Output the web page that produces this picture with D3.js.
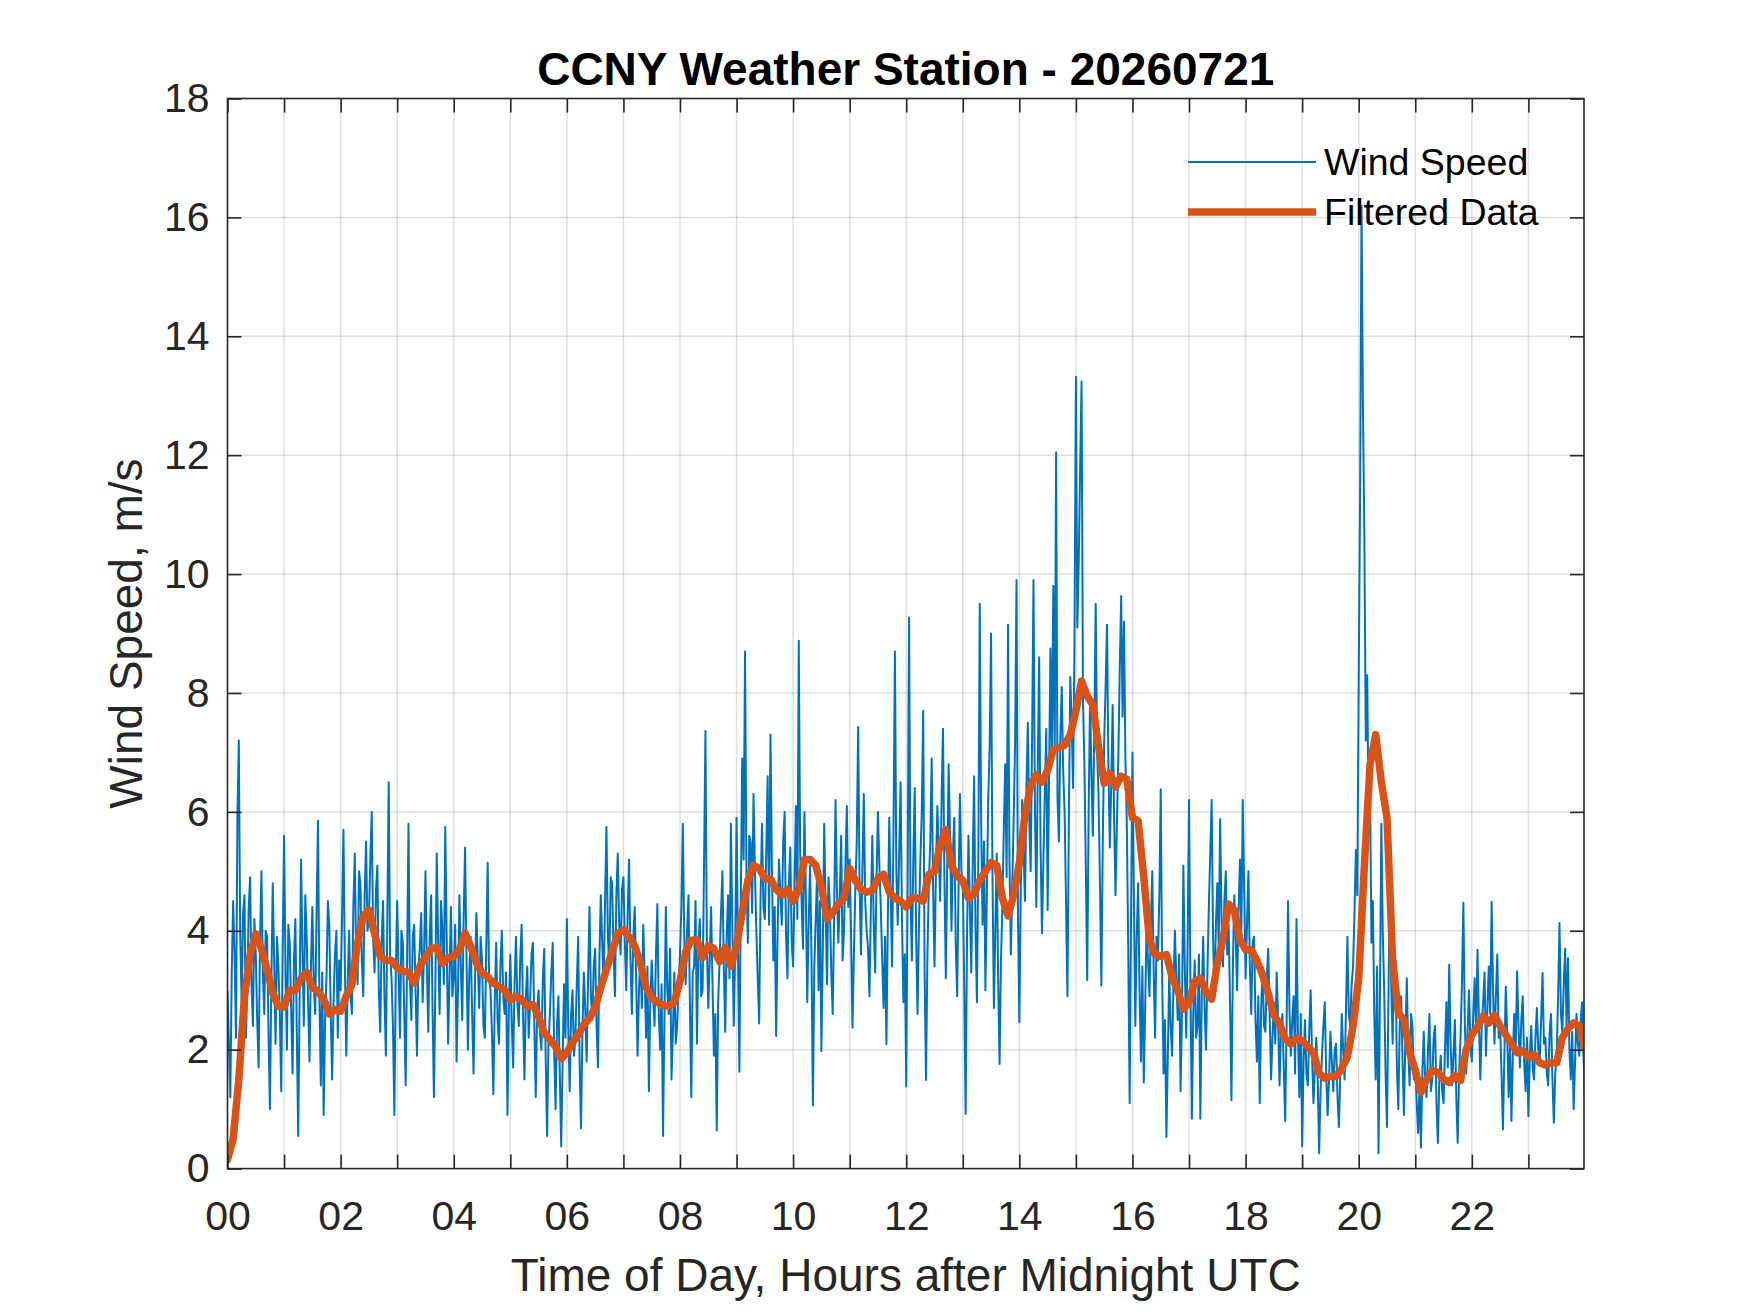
<!DOCTYPE html>
<html>
<head>
<meta charset="utf-8">
<script src="https://cdn.jsdelivr.net/npm/d3@7"></script>
<style>
  body { margin: 0; background: #fff; }
  text { font-family: "Liberation Sans", Arial, Helvetica, sans-serif; }
</style>
</head>
<body>
<div id="chart"></div>
<script>
// raw wind speed, m/s: one row per hour, one sample every 1.5 minutes
var windSpeed = [
  [3.0, 2.1, 1.2, 3.3, 4.5, 3.6, 2.2, 5.9, 7.2, 3.9, 2.8, 4.3, 4.6, 2.2, 3.0, 4.4, 4.9, 3.1, 2.4, 4.2, 3.6, 2.5, 1.7, 3.8, 5.0, 3.3, 2.6, 4.0, 3.9, 2.3, 1.0, 3.1, 4.8, 3.5, 2.1, 3.9, 3.4, 2.6, 1.3, 3.7],
  [5.6, 3.4, 2.0, 4.1, 3.8, 2.7, 1.6, 3.5, 4.2, 2.3, 0.55, 2.9, 5.2, 3.7, 2.4, 4.6, 3.9, 2.8, 1.8, 3.4, 4.4, 3.1, 2.6, 4.3, 5.85, 2.9, 1.4, 3.3, 0.9, 2.5, 3.2, 4.5, 4.1, 2.6, 1.5, 2.8, 3.6, 4.0, 2.2, 3.5],
  [3.0, 4.2, 5.7, 3.4, 1.9, 3.1, 4.0, 2.9, 2.6, 4.4, 5.3, 3.6, 3.1, 5.0, 4.8, 3.5, 2.9, 4.6, 5.5, 4.0, 4.2, 5.2, 6.0, 3.9, 3.3, 4.7, 5.1, 3.0, 2.3, 3.8, 4.5, 2.9, 1.9, 4.1, 6.5, 3.6, 3.2, 2.4, 0.9, 3.3],
  [4.5, 3.3, 2.2, 4.0, 3.8, 2.6, 1.4, 3.5, 5.8, 3.2, 2.5, 3.9, 4.1, 3.0, 1.9, 3.4, 3.7, 4.3, 2.8, 3.6, 5.0, 3.4, 2.3, 3.9, 4.6, 2.7, 1.2, 3.1, 5.3, 3.8, 2.6, 4.5, 4.0, 3.1, 5.75, 3.9, 2.1, 3.2, 4.4, 2.9],
  [3.2, 4.1, 1.8, 3.0, 4.6, 3.4, 2.5, 4.2, 5.4, 3.6, 2.0, 3.3, 3.9, 2.6, 1.6, 3.1, 4.3, 3.5, 2.7, 3.9, 3.5, 2.4, 2.2, 3.7, 5.15, 3.2, 3.0, 2.3, 1.25, 2.8, 3.8, 2.5, 2.1, 3.4, 4.0, 2.9, 2.6, 3.3, 0.9, 2.7],
  [3.6, 2.5, 1.7, 3.1, 3.9, 2.8, 2.4, 3.5, 4.1, 2.6, 1.5, 2.9, 3.4, 2.2, 2.8, 3.6, 3.8, 2.4, 1.2, 2.7, 3.0, 2.3, 2.0, 3.2, 3.7, 1.9, 0.55, 2.1, 2.6, 3.3, 3.8, 2.0, 1.0, 2.4, 2.9, 1.6, 0.37, 1.8, 3.1, 2.2],
  [4.2, 2.4, 1.3, 2.6, 3.0, 1.9, 2.2, 3.1, 3.9, 1.8, 0.68, 2.3, 3.3, 2.7, 1.8, 3.2, 4.4, 2.9, 2.5, 3.4, 3.7, 2.4, 1.7, 3.5, 4.6, 3.8, 3.1, 4.5, 5.75, 3.9, 3.4, 4.9, 4.8, 3.7, 2.9, 4.6, 5.3, 4.1, 3.6, 4.7],
  [4.9, 3.8, 3.0, 4.3, 5.2, 3.5, 2.6, 3.9, 4.4, 3.2, 1.9, 3.0, 3.6, 2.7, 4.1, 3.3, 2.2, 3.4, 1.3, 2.8, 3.5, 2.9, 2.4, 3.6, 4.45, 2.6, 2.0, 3.1, 0.55, 2.5, 4.4, 3.0, 2.6, 3.7, 1.5, 2.3, 3.3, 2.1, 2.4, 3.1],
  [3.6, 4.4, 5.8, 3.9, 3.1, 4.0, 4.6, 2.8, 1.2, 3.3, 3.4, 4.5, 2.1, 3.7, 4.2, 2.9, 3.0, 5.1, 7.36, 3.8, 2.7, 3.5, 4.4, 3.1, 1.9, 2.6, 0.64, 2.8, 3.5, 4.3, 5.0, 3.4, 2.3, 3.9, 4.6, 3.2, 5.8, 4.1, 2.4, 3.6],
  [5.9, 3.7, 1.63, 4.5, 6.9, 5.2, 8.7, 4.9, 3.8, 5.6, 5.5, 4.3, 6.3, 5.0, 4.0, 3.2, 2.44, 4.6, 5.8, 4.4, 4.2, 5.3, 6.6, 4.1, 7.3, 5.1, 3.5, 4.4, 2.23, 3.9, 5.2, 4.6, 4.1, 5.5, 6.0, 3.9, 3.2, 4.8, 5.4, 3.8],
  [3.4, 4.8, 6.1, 4.2, 8.88, 5.3, 4.5, 3.7, 6.0, 4.6, 2.8, 4.1, 5.1, 3.6, 1.06, 3.4, 4.2, 5.0, 3.0, 4.5, 1.98, 3.7, 5.8, 4.3, 3.1, 4.9, 4.4, 3.3, 2.6, 4.2, 6.2, 4.7, 3.8, 4.6, 5.6, 3.5, 4.0, 5.1, 6.1, 4.4],
  [5.2, 3.9, 2.37, 3.6, 4.7, 5.5, 7.43, 4.8, 3.6, 5.0, 6.3, 4.5, 4.0, 3.7, 2.9, 4.4, 5.6, 4.1, 3.3, 4.9, 6.0, 5.1, 4.4, 3.5, 2.7, 3.9, 2.09, 4.2, 5.9, 4.6, 3.4, 5.7, 8.7, 5.0, 4.1, 5.3, 6.5, 4.2, 2.8, 3.6],
  [1.38, 4.9, 9.27, 4.6, 3.5, 5.2, 6.4, 3.9, 2.6, 4.1, 5.2, 6.0, 7.7, 3.3, 1.49, 3.6, 4.8, 5.5, 6.9, 4.7, 3.4, 5.0, 6.1, 5.4, 4.5, 6.2, 7.4, 4.9, 3.2, 5.1, 6.8, 5.6, 4.0, 5.3, 5.9, 3.8, 2.9, 4.7, 6.3, 5.0],
  [4.8, 3.1, 0.92, 3.9, 5.6, 4.4, 3.3, 5.1, 6.6, 4.0, 2.8, 5.3, 9.5, 5.8, 4.1, 5.5, 3.0, 4.6, 6.2, 7.1, 9.0, 4.9, 2.7, 4.0, 5.3, 3.2, 1.76, 3.5, 4.4, 5.7, 6.8, 4.9, 9.15, 5.2, 3.6, 4.8, 5.9, 7.2, 9.9, 4.3],
  [2.46, 4.7, 6.2, 5.3, 4.5, 6.4, 7.5, 5.9, 5.0, 7.2, 9.9, 6.1, 4.4, 6.7, 8.6, 5.4, 3.96, 5.2, 6.3, 7.4, 4.35, 6.6, 8.75, 6.9, 9.8, 7.0, 12.05, 6.2, 5.5, 7.3, 8.1, 6.7, 6.0, 4.5, 2.9, 5.8, 8.27, 7.5, 6.4, 8.9],
  [13.32, 9.1, 10.2, 11.8, 13.24, 7.9, 6.8, 5.1, 3.17, 6.0, 7.9, 6.6, 5.6, 7.4, 9.5, 7.0, 6.3, 4.8, 3.08, 5.5, 7.2, 8.1, 9.15, 6.7, 5.4, 6.5, 7.8, 5.9, 4.6, 5.8, 6.9, 8.4, 9.63, 7.6, 9.2, 6.9, 5.8, 3.7, 1.1, 4.3],
  [7.0, 4.6, 2.4, 3.9, 4.8, 3.0, 1.8, 3.4, 1.45, 2.7, 4.2, 3.5, 2.9, 4.1, 5.0, 3.3, 2.2, 3.9, 3.5, 4.6, 6.38, 3.2, 1.6, 2.5, 0.53, 1.9, 3.3, 2.4, 1.9, 3.1, 4.0, 3.2, 2.5, 3.6, 1.3, 2.6, 5.1, 3.4, 2.2, 3.8],
  [6.2, 3.1, 0.84, 2.6, 3.5, 2.2, 2.4, 3.6, 0.84, 2.9, 3.9, 2.7, 2.0, 3.3, 4.4, 5.3, 6.2, 3.9, 2.9, 4.1, 4.8, 3.7, 5.88, 4.2, 3.4, 4.5, 5.0, 3.6, 4.1, 2.8, 1.15, 3.4, 4.6, 3.9, 3.0, 4.3, 5.2, 4.0, 6.2, 4.7],
  [3.2, 4.1, 5.0, 3.4, 2.6, 3.8, 3.9, 2.5, 1.8, 2.9, 1.1, 2.7, 3.4, 2.4, 2.3, 3.2, 3.7, 2.6, 1.5, 2.2, 2.8, 2.1, 3.3, 2.5, 1.4, 2.3, 2.6, 1.7, 0.8, 2.4, 4.5, 2.7, 1.9, 2.5, 2.9, 1.6, 4.2, 2.3, 1.2, 2.6],
  [0.37, 1.8, 2.5, 1.6, 1.4, 2.3, 3.0, 1.9, 1.1, 1.7, 2.2, 1.5, 0.26, 1.3, 1.9, 2.4, 2.8, 1.6, 0.9, 1.5, 2.3, 1.8, 1.3, 2.0, 2.1, 1.2, 0.7, 1.6, 2.6, 2.0, 1.5, 2.7, 3.9, 2.6, 2.4, 3.1, 3.4, 4.3, 5.36, 4.6],
  [8.25, 11.4, 16.2, 12.8, 10.6, 7.2, 8.3, 5.9, 6.4, 3.8, 4.5, 2.6, 1.5, 3.4, 0.26, 2.9, 5.8, 4.0, 3.0, 1.6, 0.7, 2.8, 4.8, 3.1, 2.1, 3.6, 3.5, 1.7, 1.0, 2.4, 2.9, 1.8, 0.9, 2.2, 3.2, 2.0, 1.4, 2.6, 2.4, 1.5],
  [1.8, 1.1, 0.6, 1.4, 0.35, 1.6, 2.3, 1.5, 1.2, 2.0, 2.6, 1.3, 1.5, 2.2, 2.4, 1.1, 0.43, 1.5, 1.9, 1.3, 1.1, 2.0, 2.8, 1.7, 3.43, 2.1, 1.4, 1.9, 2.5, 1.2, 0.43, 1.6, 2.2, 3.1, 4.47, 2.5, 1.6, 2.3, 3.0, 2.1],
  [1.8, 2.6, 3.2, 2.3, 3.68, 2.5, 1.5, 2.4, 2.8, 3.3, 1.9, 2.7, 3.4, 2.6, 4.49, 3.0, 2.1, 2.9, 3.6, 2.2, 2.4, 1.6, 0.66, 1.9, 3.06, 2.3, 1.2, 2.1, 0.8, 1.9, 2.6, 2.0, 3.32, 2.4, 1.7, 2.5, 2.9, 1.8, 1.3, 2.2],
  [0.88, 1.9, 2.4, 1.7, 1.5, 2.2, 2.7, 2.0, 1.8, 2.5, 3.29, 2.1, 2.2, 1.6, 1.4, 2.3, 2.6, 1.5, 0.77, 1.6, 1.9, 2.9, 4.13, 2.6, 2.3, 3.1, 3.7, 2.4, 3.54, 2.0, 1.5, 2.3, 1.0, 1.8, 2.6, 2.1, 1.9, 2.5, 2.8, 1.9, 1.13]
]
var windStep = 0.025   // hours between raw samples

// filtered wind speed, m/s: one row per hour, one sample every 6 minutes
var filtered = [
  [0.15, 0.5, 1.5, 2.9, 3.6, 3.95, 3.7, 3.35, 2.95, 2.73],
  [2.72, 3.0, 3.0, 3.2, 3.3, 3.05, 2.98, 2.85, 2.6, 2.68],
  [2.65, 2.9, 3.1, 3.8, 4.25, 4.35, 3.95, 3.57, 3.5, 3.5],
  [3.38, 3.32, 3.3, 3.12, 3.4, 3.55, 3.7, 3.72, 3.45, 3.55],
  [3.57, 3.68, 3.96, 3.74, 3.46, 3.29, 3.23, 3.12, 3.06, 3.0],
  [2.84, 2.9, 2.84, 2.73, 2.76, 2.56, 2.28, 2.17, 2.05, 1.85],
  [1.95, 2.12, 2.25, 2.42, 2.53, 2.7, 3.05, 3.35, 3.65, 3.95],
  [4.02, 3.9, 3.75, 3.45, 3.05, 2.87, 2.8, 2.75, 2.73, 2.8],
  [3.15, 3.65, 3.84, 3.85, 3.55, 3.75, 3.7, 3.48, 3.72, 3.4],
  [3.75, 4.3, 4.85, 5.1, 5.05, 4.88, 4.87, 4.7, 4.6, 4.7],
  [4.5, 4.7, 5.2, 5.2, 5.1, 4.75, 4.2, 4.3, 4.45, 4.55],
  [5.05, 4.85, 4.7, 4.65, 4.68, 4.88, 4.95, 4.65, 4.55, 4.5],
  [4.4, 4.55, 4.55, 4.5, 4.95, 5.0, 5.45, 5.7, 5.1, 4.92],
  [4.85, 4.55, 4.62, 4.85, 5.0, 5.15, 5.1, 4.55, 4.25, 4.6],
  [5.15, 5.95, 6.45, 6.62, 6.5, 6.7, 7.05, 7.08, 7.12, 7.3],
  [7.7, 8.2, 7.95, 7.8, 7.1, 6.48, 6.65, 6.42, 6.6, 6.55],
  [5.9, 5.85, 4.9, 3.85, 3.6, 3.57, 3.6, 3.22, 3.0, 2.68],
  [2.8, 3.15, 3.2, 2.98, 2.85, 3.45, 3.85, 4.45, 4.35, 3.85],
  [3.68, 3.68, 3.5, 3.26, 2.95, 2.58, 2.44, 2.18, 2.1, 2.2],
  [2.15, 2.05, 1.95, 1.6, 1.52, 1.55, 1.55, 1.68, 1.88, 2.4],
  [3.2, 5.1, 6.8, 7.3, 6.5, 5.9, 3.5, 2.62, 2.5, 1.95],
  [1.65, 1.28, 1.5, 1.65, 1.62, 1.5, 1.45, 1.57, 1.48, 2.0],
  [2.25, 2.38, 2.57, 2.45, 2.58, 2.4, 2.25, 2.1, 1.95, 1.98],
  [1.88, 1.92, 1.78, 1.74, 1.78, 1.78, 2.2, 2.35, 2.45, 2.4, 2.0]
]
var filteredStep = 0.1

var hourTicks = d3.range(0, 24)            // tick every hour
var hourLabels = ['00', '02', '04', '06', '08', '10', '12', '14', '16', '18', '20', '22']
var speedTicks = [0, 2, 4, 6, 8, 10, 12, 14, 16, 18]
var xMax = 23.983                          // 23:59 UTC

var blue = '#0072BD'
var orange = '#D95319'
var axisColor = '#262626'

// turn hour rows into {t, v} points
function toPoints(rows, step) {
  var pts = []
  rows.forEach(function (row, h) {
    row.forEach(function (v, j) { pts.push({ t: h + j * step, v: v }) })
  })
  return pts
}

// set the dimensions and margins of the graph
var margin = { top: 98.5, right: 166, bottom: 144.4, left: 227.5 }
var width = 1750 - margin.left - margin.right
var height = 1313 - margin.top - margin.bottom

var svg = d3.select('#chart').append('svg')
  .attr('width', 1750)
  .attr('height', 1313)
  .style('background', '#fff')

var mainG = svg.append('g')
  .attr('transform', 'translate(' + margin.left + ',' + margin.top + ')')

var x = d3.scaleLinear().domain([0, xMax]).range([0, width])
var y = d3.scaleLinear().domain([0, 18]).range([height, 0])

// grid lines
mainG.append('g').selectAll('line')
  .data(hourTicks.filter(function (d) { return d > 0 }))
  .enter().append('line')
  .attr('x1', function (d) { return x(d) }).attr('x2', function (d) { return x(d) })
  .attr('y1', 0).attr('y2', height)
  .attr('stroke', axisColor).attr('stroke-opacity', 0.15).attr('stroke-width', 1.5)

mainG.append('g').selectAll('line')
  .data(speedTicks.filter(function (d) { return d > 0 && d < 18 }))
  .enter().append('line')
  .attr('x1', 0).attr('x2', width)
  .attr('y1', function (d) { return y(d) }).attr('y2', function (d) { return y(d) })
  .attr('stroke', axisColor).attr('stroke-opacity', 0.15).attr('stroke-width', 1.5)

// data lines, clipped to the axes box
svg.append('defs').append('clipPath').attr('id', 'plotClip')
  .append('rect').attr('width', width).attr('height', height)

var plotG = mainG.append('g').attr('clip-path', 'url(#plotClip)')

var line = d3.line()
  .x(function (d) { return x(d.t) })
  .y(function (d) { return y(d.v) })

plotG.append('path')
  .datum(toPoints(windSpeed, windStep))
  .attr('d', line)
  .attr('fill', 'none')
  .attr('stroke', blue)
  .attr('stroke-width', 2)
  .attr('stroke-linejoin', 'round')

plotG.append('path')
  .datum(toPoints(filtered, filteredStep))
  .attr('d', line)
  .attr('fill', 'none')
  .attr('stroke', orange)
  .attr('stroke-width', 7.5)
  .attr('stroke-linejoin', 'round')
  .attr('stroke-linecap', 'round')

// axes (ticks point inward, box on)
var fontStack = '"Liberation Sans", Arial, Helvetica, sans-serif'

function styleAxis(g) {
  g.attr('font-family', fontStack).attr('font-size', 41)
  g.select('.domain').remove()
  g.selectAll('.tick line').attr('stroke', axisColor).attr('stroke-width', 1.6)
  g.selectAll('.tick text').attr('fill', axisColor)
}

mainG.append('g')
  .attr('transform', 'translate(0,' + height + ')')
  .call(d3.axisBottom(x).tickValues(hourTicks).tickSize(-14).tickPadding(32)
    .tickFormat(function (d) { return d % 2 == 0 ? hourLabels[d / 2] : '' }))
  .call(styleAxis)

mainG.append('g')
  .call(d3.axisTop(x).tickValues(hourTicks).tickSize(-14).tickFormat(''))
  .call(styleAxis)

mainG.append('g')
  .call(d3.axisLeft(y).tickValues(speedTicks).tickSize(-14).tickPadding(18))
  .call(styleAxis)

mainG.append('g')
  .attr('transform', 'translate(' + width + ',0)')
  .call(d3.axisRight(y).tickValues(speedTicks).tickSize(-14).tickFormat(''))
  .call(styleAxis)

// box
mainG.append('rect')
  .attr('width', width).attr('height', height)
  .attr('fill', 'none')
  .attr('stroke', axisColor).attr('stroke-width', 1.6)

// titles
svg.append('text')
  .attr('x', margin.left + width / 2)
  .attr('y', 85)
  .attr('text-anchor', 'middle')
  .style('font-size', '46px')
  .style('font-weight', 'bold')
  .style('fill', '#000')
  .text('CCNY Weather Station - 20260721')

svg.append('text')
  .attr('x', margin.left + width / 2)
  .attr('y', 1291)
  .attr('text-anchor', 'middle')
  .style('font-size', '46px')
  .style('fill', axisColor)
  .text('Time of Day, Hours after Midnight UTC')

svg.append('text')
  .attr('transform', 'translate(142,' + (margin.top + height / 2) + ') rotate(-90)')
  .attr('text-anchor', 'middle')
  .style('font-size', '46px')
  .style('fill', axisColor)
  .text('Wind Speed, m/s')

// legend (no box)
var LABELS = ['Wind Speed', 'Filtered Data']
var legend = svg.selectAll('.legend')
  .data(LABELS)
  .enter().append('g')
  .attr('class', 'legend')
  .attr('transform', function (d, i) { return 'translate(1188,' + (162 + i * 50) + ')' })

legend.append('line')
  .attr('x1', 0).attr('x2', 128)
  .attr('stroke', function (d, i) { return i == 0 ? blue : orange })
  .attr('stroke-width', function (d, i) { return i == 0 ? 2 : 7.5 })

legend.append('text')
  .attr('x', 136)
  .attr('dy', '0.35em')
  .style('font-size', '37.5px')
  .style('fill', '#000')
  .text(function (d) { return d })
</script>
</body>
</html>
